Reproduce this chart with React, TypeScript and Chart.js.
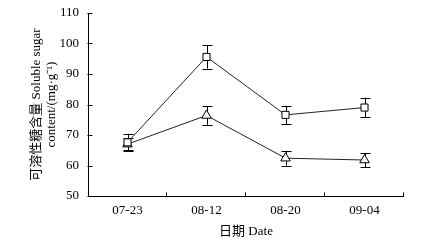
import React, { useEffect, useRef } from "react";
import { Chart, registerables } from "chart.js";

Chart.register(...registerables);

const categories = ["07-23", "08-12", "08-20", "09-04"];
const squareValues = [67.6, 95.6, 76.6, 79.0];
const squareErrors = [2.8, 3.8, 3.0, 3.2];
const triangleValues = [67.0, 76.4, 62.4, 61.8];
const triangleErrors = [2.0, 3.0, 2.4, 2.3];
const yTicks = [50, 60, 70, 80, 90, 100, 110];

const FONT = '"Liberation Serif", "Noto Sans CJK SC", serif';

const errorBarPlugin = {
  id: "errorBars",
  beforeDatasetsDraw(chart: any) {
    const ctx = chart.ctx;
    const x = chart.scales.x;
    const y = chart.scales.y;
    const sets = [
      { v: squareValues, e: squareErrors },
      { v: triangleValues, e: triangleErrors },
    ];
    ctx.save();
    ctx.strokeStyle = "#000";
    ctx.lineWidth = 1;
    sets.forEach((s) => {
      s.v.forEach((val, i) => {
        const px = Math.round(x.getPixelForValue(i)) + 0.5;
        const top = y.getPixelForValue(val + s.e[i]);
        const bot = y.getPixelForValue(val - s.e[i]);
        ctx.beginPath();
        ctx.moveTo(px, top);
        ctx.lineTo(px, bot);
        ctx.moveTo(px - 5, Math.round(top) + 0.5);
        ctx.lineTo(px + 5, Math.round(top) + 0.5);
        ctx.moveTo(px - 5, Math.round(bot) + 0.5);
        ctx.lineTo(px + 5, Math.round(bot) + 0.5);
        ctx.stroke();
      });
    });
    ctx.restore();
  },
  afterDraw(chart: any) {
    const ctx = chart.ctx;
    const x = chart.scales.x;
    const y = chart.scales.y;
    const left = Math.round(x.left) + 0.5;
    const bottom = Math.round(y.bottom) + 0.5;
    ctx.save();
    ctx.strokeStyle = "#000";
    ctx.lineWidth = 1;
    ctx.beginPath();
    ctx.moveTo(left, y.top);
    ctx.lineTo(left, bottom);
    ctx.lineTo(x.right, bottom);
    yTicks.forEach((t) => {
      const py = Math.round(y.getPixelForValue(t)) + 0.5;
      ctx.moveTo(left - 1, py);
      ctx.lineTo(left + 4, py);
    });
    const n = categories.length;
    for (let i = 1; i <= n; i++) {
      let px;
      if (i === n) px = x.right;
      else px = (x.getPixelForValue(i - 1) + x.getPixelForValue(i)) / 2;
      px = Math.round(px) - 0.5;
      ctx.moveTo(px, bottom);
      ctx.lineTo(px, bottom - 4);
    }
    ctx.stroke();
    ctx.restore();
  },
};

export default function App() {
  const ref = useRef<HTMLCanvasElement>(null);
  useEffect(() => {
    if (!ref.current) return;
    const chart = new Chart(ref.current, {
      type: "line",
      data: {
        labels: categories,
        datasets: [
          {
            data: squareValues,
            borderColor: "#222",
            borderWidth: 1,
            pointStyle: "rect",
            pointRadius: 5,
            pointBackgroundColor: "#fff",
            pointBorderColor: "#000",
            pointBorderWidth: 1,
          },
          {
            data: triangleValues,
            borderColor: "#222",
            borderWidth: 1,
            pointStyle: "triangle",
            pointRadius: 5.5,
            pointBackgroundColor: "#fff",
            pointBorderColor: "#000",
            pointBorderWidth: 1,
          },
        ],
      },
      options: {
        animation: false,
        responsive: false,
        maintainAspectRatio: false,
        layout: { padding: { top: 13, right: 22, left: 0, bottom: 0 } },
        plugins: {
          legend: { display: false },
          tooltip: { enabled: false },
        },
        scales: {
          x: {
            offset: true,
            grid: { display: false, drawTicks: false },
            border: { display: false },
            ticks: {
              color: "#000",
              font: { family: FONT, size: 13 },
              padding: 7,
              maxRotation: 0,
            },
            title: {
              display: true,
              text: "日期 Date",
              color: "#000",
              font: { family: FONT, size: 13 },
              padding: { top: 3, bottom: 4 },
            },
            afterFit(scale: any) {
              scale.height = 47;
              scale.paddingLeft = 0;
              scale.paddingRight = 0;
            },
          },
          y: {
            min: 50,
            max: 110,
            grid: { display: false, drawTicks: false },
            border: { display: false },
            afterBuildTicks(scale: any) {
              scale.ticks = yTicks.map((v) => ({ value: v }));
            },
            ticks: {
              color: "#000",
              font: { family: FONT, size: 13 },
              padding: 9,
            },
            title: {
              display: true,
              text: ["可溶性糖含量 Soluble sugar", "content/(mg·g⁻¹)"],
              color: "#000",
              font: { family: FONT, size: 13, lineHeight: 1.15 },
              padding: { top: 29, bottom: 4 },
            },
            afterFit(scale: any) {
              scale.width = 88;
              scale.paddingTop = 0;
              scale.paddingBottom = 0;
            },
          },
        },
      },
      plugins: [errorBarPlugin],
    });
    return () => chart.destroy();
  }, []);
  return (
    <div style={{ position: "fixed", left: 0, top: 0, width: 426, height: 243, background: "#fff" }}>
      <canvas ref={ref} width={426} height={243} style={{ width: 426, height: 243 }} />
    </div>
  );
}
